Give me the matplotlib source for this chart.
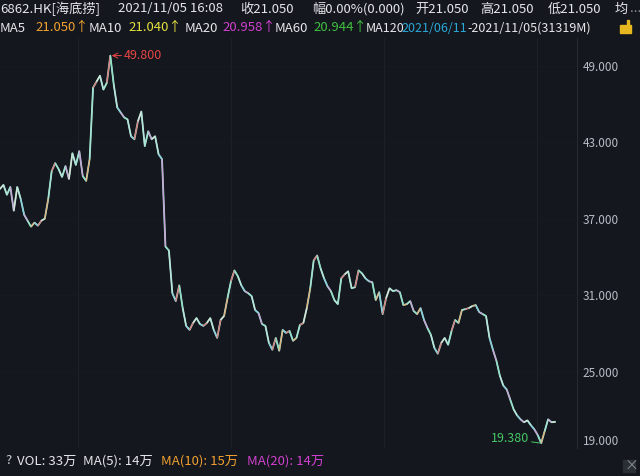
import numpy as np
import matplotlib.pyplot as plt
from matplotlib.collections import LineCollection
from matplotlib.patches import Rectangle

plt.rcParams['font.family'] = ['Noto Sans CJK SC', 'DejaVu Sans']

# precio de cierre 6862.HK
precios = [39.34, 39.65, 38.87, 39.49, 37.62, 39.49, 38.56, 37.31, 36.84, 36.37,
           36.69, 36.45, 36.84, 37.00, 38.56, 40.74, 41.36, 40.89, 40.27, 41.13,
           40.11, 42.14, 41.21, 42.30, 40.35, 39.96, 41.67, 47.29, 47.75, 48.22,
           47.13, 47.67, 49.80, 47.52, 45.73, 45.34, 44.95, 44.79, 43.47, 43.23,
           44.64, 45.41, 42.69, 43.86, 43.23, 43.47, 42.06, 41.67, 34.81, 34.50,
           31.15, 30.53, 31.77, 29.98, 28.58, 28.27, 28.81, 29.20, 28.73, 28.58,
           28.81, 29.20, 28.27, 27.64, 29.05, 29.36, 30.76, 32.09, 32.94, 32.48,
           31.77, 31.31, 31.15, 30.92, 29.83, 29.59, 28.73, 28.58, 27.25, 26.71,
           27.64, 26.63, 28.27, 28.03, 28.19, 27.41, 27.64, 28.66, 28.81, 29.98,
           31.54, 33.72, 34.11, 33.10, 32.32, 31.70, 31.31, 30.61, 30.29, 32.32,
           32.63, 32.87, 31.54, 31.62, 32.94, 32.71, 32.32, 32.09, 32.01, 30.61,
           31.23, 29.51, 30.76, 31.54, 31.31, 31.39, 31.23, 30.22, 30.29, 30.53,
           29.75, 29.51, 29.98, 29.05, 28.42, 27.88, 26.86, 26.40, 27.25, 27.64,
           27.10, 28.19, 29.05, 28.81, 29.83, 29.90, 29.98, 30.14, 30.22, 29.67,
           29.51, 29.36, 27.64, 26.71, 25.85, 24.68, 23.90, 23.59, 22.81, 22.03,
           21.56, 21.25, 21.02, 21.17, 20.79, 20.47, 20.01, 19.38, 20.32, 21.25,
           21.02, 21.05]

niveles = [19, 25, 31, 37, 43, 49]
etiquetas = ['%.3f' % v for v in niveles]

fondo = '#14171d'
fig = plt.figure(figsize=(6.4, 4.76), dpi=100, facecolor=fondo)
ax = fig.add_axes([0, 28 / 476, 577 / 640, 410 / 476])
ax.set_facecolor(fondo)

n = len(precios)
x = np.arange(n)
y = np.array(precios)

# colores de cada tramo segun sube o baja
paleta_sube = ['#d9e4d6', '#e0b27a', '#9fe3cf', '#d97a7a']
paleta_baja = ['#8ee0c6', '#b9e6dc', '#86cde0', '#c9a0d8']
colores = []
for i in range(n - 1):
    d = y[i + 1] - y[i]
    if d >= 0:
        colores.append(paleta_sube[i % 4])
    else:
        colores.append(paleta_baja[i % 4])

ax.plot(x, y, color='#a8dccf', linewidth=1.3, zorder=2)
segs = np.stack([np.column_stack([x[:-1], y[:-1]]), np.column_stack([x[1:], y[1:]])], axis=1)
ax.add_collection(LineCollection(segs, colors=colores, linewidths=0.9, zorder=3))

ax.set_xlim(0, (n - 1) * 577 / 555)
ax.set_ylim(19.226, 51.18)

# rejilla tenue
for gx in [78, 231, 384, 537]:
    ax.axvline(gx / 555 * (n - 1), color='#1d2127', linewidth=0.8, zorder=1)
for lv in niveles:
    ax.axhline(lv, color='#171a20', linewidth=0.8, zorder=1)

for s in ['top', 'left', 'bottom']:
    ax.spines[s].set_visible(False)
ax.spines['right'].set_color('#262a31')
ax.set_xticks([])
ax.yaxis.tick_right()
ax.set_yticks(niveles)
ax.set_yticklabels(etiquetas)
ax.tick_params(axis='y', length=0, pad=4, labelsize=8.5, labelcolor='#b8bcc4')
ax.get_yticklabels()[0].set_va('bottom')

# maximo y minimo
imax = int(np.argmax(y))
imin = int(np.argmin(y))
ax.annotate('%.3f' % y[imax], xy=(imax, y[imax]), xytext=(10, 0), textcoords='offset points',
            ha='left', va='center', fontsize=9, color='#e84545',
            arrowprops=dict(arrowstyle='->', color='#e84545', lw=0.7, shrinkA=0, shrinkB=1))
ax.annotate('%.3f' % y[imin], xy=(imin, y[imin]), xytext=(-9, 3), textcoords='offset points',
            ha='right', va='center', fontsize=9, color='#45c865',
            arrowprops=dict(arrowstyle='-', color='#45c865', lw=0.7, shrinkA=0, shrinkB=1))

# cabecera
blanco = '#e4e6ea'
fs = 9.5
def texto(px, py, s, c=blanco, size=fs):
    fig.text(px / 640, 1 - py / 476, s, color=c, fontsize=size, ha='left', va='center')

texto(0, 9, '6862.HK[海底捞]')
texto(118, 9, '2021/11/05 16:08')
texto(240, 9, '收21.050')
texto(312, 9, '幅0.00%(0.000)')
texto(415, 9, '开21.050')
texto(480, 9, '高21.050')
texto(548, 9, '低21.050')
texto(615, 9, '均')
texto(630, 9, '...', c='#8a8e96')

texto(0, 28, 'MA5')
texto(35, 28, '21.050↑', c='#f0a030')
texto(89, 28, 'MA10')
texto(128, 28, '21.040↑', c='#e6e040')
texto(185, 28, 'MA20')
texto(222, 28, '20.958↑', c='#d040d0')
texto(275, 28, 'MA60')
texto(313, 28, '20.944↑', c='#40c040')
texto(366, 28, 'MA120', size=9)
texto(401, 28, '2021/06/11', c='#2aa8d8', size=9)
texto(467, 28, '-2021/11/05(31319M)', size=9)

# candado
fig.patches.append(Rectangle((620 / 640, 1 - 33 / 476), 11 / 640, 8 / 476,
                             transform=fig.transFigure, color='#e8b820'))
fig.patches.append(Rectangle((627 / 640, 1 - 26 / 476), 2 / 640, 6 / 476,
                             transform=fig.transFigure, color='#e8b820'))

# pie de volumen
texto(5, 461, '?', c='#c8ccd2')
texto(17, 461, 'VOL: 33万')
texto(83, 461, 'MA(5): 14万')
texto(161, 461, 'MA(10): 15万', c='#f0a030')
texto(247, 461, 'MA(20): 14万', c='#d040d0')
fig.patches.append(Rectangle((623 / 640, 1 - 472 / 476), 12 / 640, 12 / 476,
                             transform=fig.transFigure, color='#2a2e35'))
texto(625, 466, '×', c='#8a8e96', size=10)

fig.savefig('out.png', dpi=100, facecolor=fondo)
